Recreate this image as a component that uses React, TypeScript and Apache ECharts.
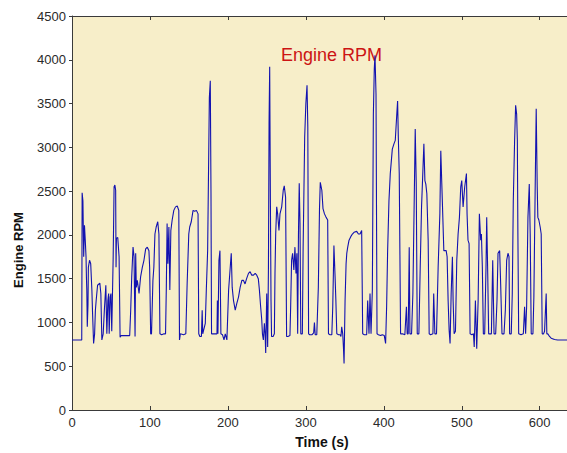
import React, { useEffect, useRef } from "react";
import * as echarts from "echarts";

// [time (s), rpm] samples, split by 100 s segments
const seg0: number[][] = [[0,800],[5,800],[10,800],[12.5,800],[13,2480],[14,2390],[15,1750],[16,2110],[17,1940],[18,1750],[18.5,1520],[19,1370],[19.6,950],[20.5,1200],[21,1630],[22.5,1710],[24,1670],[25.5,1370],[26.4,1100],[27.7,760],[29,870],[30,1140],[31,1250],[32.8,1425],[35.7,1450],[37,1330],[38.3,800],[40,870],[41.5,1140],[43.4,1425],[44.7,870],[46,1250],[47,1330],[47.7,870],[49,1290],[50,1330],[51,900],[52.8,1730],[54,2550],[55,2570],[56,2510],[56.5,1630],[57,1960],[58.7,1970],[60.4,1750],[61.7,830],[63,850],[66,850],[70,850],[74,850],[75.3,1140],[76.6,1520],[78.3,1860],[79.6,1750],[80.9,840],[81.7,1790],[82.5,1400],[83.8,1480],[86,1330],[88,1520],[90.2,1630],[92.3,1710],[94.5,1840],[96.6,1860],[98.7,1820],[99.6,1630]];
const seg1: number[][] = [[100.9,870],[102,870],[103.8,1480],[105,1630],[106.4,2010],[108,2090],[110,2150],[111.5,2010],[112.8,870],[115,860],[118,870],[120,870],[121,1400],[122,2130],[123,1670],[124.3,2090],[125.5,1370],[126.8,2050],[128.5,2170],[130.6,2280],[132.8,2320],[135,2330],[137,2280],[137.9,800],[139,870],[143,860],[146,870],[147.7,1440],[149.8,2010],[151,2090],[153,2150],[155.3,2280],[157.4,2270],[159.6,2280],[161.7,2240],[162.6,870],[164,840],[166,840],[167,1140],[167.7,870],[171,990],[172.3,1370],[174,1820],[175.3,2850],[176.2,3570],[177.4,3760],[178.3,2470],[179,870],[182,870],[186,870],[186.5,1250],[187.2,870],[188.5,1710],[189.8,1820],[191,870],[193,860],[195,800],[196.6,870],[198.7,800]];
const seg2: number[][] = [[200.9,1370],[203,1630],[204.3,1790],[205.5,1400],[207.2,1250],[209.4,1140],[211.5,1220],[213.6,1290],[215.7,1400],[217.9,1480],[220,1480],[222,1440],[224,1500],[226.4,1560],[228.5,1580],[230.6,1540],[232.8,1540],[235,1560],[237,1540],[239,1500],[240.4,1370],[242,1180],[243.4,1030],[244.3,870],[245.5,800],[246.8,990],[247.7,870],[248.5,650],[249.8,1330],[251,720],[252,1630],[252.8,3290],[253.6,3920],[254.5,2390],[255.3,1250],[256,840],[258,840],[259.6,870],[260.4,1560],[261.3,2010],[262.6,2320],[263.8,2240],[265.5,2050],[266.8,2240],[269,2320],[271,2510],[272.3,2560],[274,2430],[275.3,840],[277,840],[279.6,850],[280.5,1180],[281.7,1710],[283,1790],[284.6,1600],[286,1860],[287.3,1560],[288.5,1790],[289.5,870],[290.5,2000],[291.5,2590],[292.5,2130],[293.5,870],[295.5,870],[296.5,1860],[298.5,3120],[300,3500]];
const seg3: number[][] = [[301.5,3710],[302.5,3235],[303.5,870],[305,860],[308,860],[310,880],[311,1000],[312,860],[314,860],[316,1400],[317.5,2300],[318.5,2600],[320.5,2510],[322,2300],[323.9,2240],[326,2200],[328,2170],[329,870],[331,860],[333.3,860],[334.5,1180],[336,1880],[337.5,1520],[338.5,1250],[339.7,870],[342,860],[344,860],[345,840],[346,950],[347.3,870],[348.2,720],[349,530],[350.3,1250],[351.6,1670],[352.5,1790],[353.7,1860],[355.4,1940],[357.6,1980],[359.7,2010],[361.8,2030],[365.2,2040],[367.4,2010],[369.5,2010],[371.6,2050],[372.9,870],[375,860],[378,860],[379.3,1250],[381,870],[382.3,1330],[383.6,870],[385.3,1370],[386.6,3380],[387.8,3900],[388.7,4050],[390,3610],[391.3,870],[393,860],[396,850],[398,860],[400.6,850]];
const seg4: number[][] = [[402.3,760],[403.6,1180],[404.9,1820],[406.6,2390],[408.3,2700],[410.9,2980],[413,3040],[414.7,3080],[416.8,3400],[417.7,3530],[418.6,3120],[419.8,2700],[421.5,870],[424,870],[427,860],[429,1180],[430,870],[431.3,870],[432.6,1860],[433.5,870],[435.6,870],[437.3,1330],[439,2390],[440.3,3210],[441.6,2580],[442.9,870],[445,870],[446.7,1630],[448.4,2320],[450,2700],[451.4,3040],[452.7,2620],[453.9,2580],[455.2,2470],[456.9,1940],[458.2,870],[460,860],[463,870],[464,1330],[465.5,870],[467.6,870],[469.7,1630],[471.9,2240],[473.1,2960],[474.4,2580],[475.3,2320],[477,1820],[478.7,1820],[480,1820],[481.2,1750],[482.5,1250],[483.8,910],[485,760],[486.4,1330],[488,1750],[488.9,1250],[490.2,870],[491.9,900],[493.6,1710],[495.3,2010],[497,2200],[498.7,2550],[500,2620]];
const seg5: number[][] = [[501.7,2320],[503.8,2550],[506,2700],[506.8,2240],[508,1940],[509.4,1900],[510.7,870],[513,860],[515,870],[516,720],[517.5,1250],[519.2,700],[521,1250],[522.6,2240],[524.3,1940],[525.2,2010],[526.4,1630],[527.7,870],[529.4,870],[531.1,1630],[532,2200],[533.3,1560],[534.5,870],[538,870],[539.7,1710],[541.4,870],[543.5,870],[545.2,1250],[546.5,1790],[548.6,1820],[549.9,1440],[551.6,870],[554.2,870],[555.9,1140],[557.6,1710],[559.3,1790],[560.6,1750],[561.4,870],[563.5,870],[564.8,1330],[566.1,2390],[567.8,3080],[569.1,3480],[570.4,3380],[571.3,3080],[572,2010],[573,870],[576,860],[579,870],[580.6,1180],[581.9,870],[583.2,1180],[584.9,2200],[586.6,2580],[587.8,2010],[589.1,870],[591.3,870],[592.5,1290],[594.2,2550],[595.5,3440],[596.8,2550],[597.6,2200],[598.9,2170],[600.6,2090],[601.9,2010],[603.2,870],[604.9,870],[606.2,900],[608.3,1330],[609.1,870],[610.4,870],[612.6,840],[614.7,820],[619,805],[623,800],[628,800],[633,800],[635,800]];

const rpmData = [...seg0, ...seg1, ...seg2, ...seg3, ...seg4, ...seg5];

const TITLE = "Engine RPM";
const X_NAME = "Time (s)";
const Y_NAME = "Engine RPM";

export default function App() {
  const ref = useRef<HTMLDivElement>(null);
  useEffect(() => {
    if (!ref.current) return;
    const chart = echarts.init(ref.current, null, { renderer: "svg" });
    const axisColor = "#3a3a3a";
    const labelStyle = { color: "#2a2a2a", fontFamily: "Liberation Sans, Arial, sans-serif", fontSize: 13 };
    chart.setOption({
      animation: false,
      backgroundColor: "#ffffff",
      grid: {
        left: 72, top: 16, right: 0, bottom: 43,
        show: true, backgroundColor: "#F7EEC9", borderWidth: 0,
      },
      xAxis: [
        {
          type: "value", min: 0, max: 635, interval: 100,
          axisLine: { show: true, lineStyle: { color: axisColor, width: 1 } },
          axisTick: { show: true, inside: true, length: 4, lineStyle: { color: axisColor } },
          axisLabel: { ...labelStyle, margin: 6, showMaxLabel: false, formatter: (v: number) => (v % 100 === 0 ? String(v) : "") },
          splitLine: { show: false },
        },
        {
          type: "value", position: "top", min: 0, max: 635, interval: 100,
          axisLine: { show: true, onZero: false, lineStyle: { color: axisColor, width: 1 } },
          axisTick: { show: true, inside: true, length: 4, lineStyle: { color: axisColor } },
          axisLabel: { show: false },
          splitLine: { show: false },
        },
      ],
      yAxis: {
        type: "value", min: 0, max: 4500, interval: 500,
        axisLine: { show: true, lineStyle: { color: axisColor, width: 1 } },
        axisTick: { show: true, inside: false, length: 3, lineStyle: { color: axisColor } },
        axisLabel: { ...labelStyle, margin: 6, formatter: (v: number) => String(v) },
        splitLine: { show: false },
      },
      series: [
        {
          type: "line",
          data: rpmData,
          showSymbol: false,
          symbol: "none",
          lineStyle: { color: "#1212B0", width: 1.1 },
          clip: true,
        },
      ],
      graphic: [
        {
          type: "text", left: 281, top: 46,
          style: { text: TITLE, fill: "#CC1414", font: "18px 'Liberation Sans', Arial, sans-serif" },
        },
        {
          type: "text", x: 322, y: 442,
          style: { text: X_NAME, fill: "#111", font: "bold 14px 'Liberation Sans', Arial, sans-serif", align: "center", verticalAlign: "middle" },
        },
        {
          type: "text", x: 18, y: 250, rotation: Math.PI / 2,
          style: { text: Y_NAME, fill: "#111", font: "bold 13px 'Liberation Sans', Arial, sans-serif", align: "center", verticalAlign: "middle" },
        },
      ],
    });
    return () => chart.dispose();
  }, []);
  return <div ref={ref} style={{ width: 567, height: 453, position: "absolute", left: 0, top: 0 }} />;
}
